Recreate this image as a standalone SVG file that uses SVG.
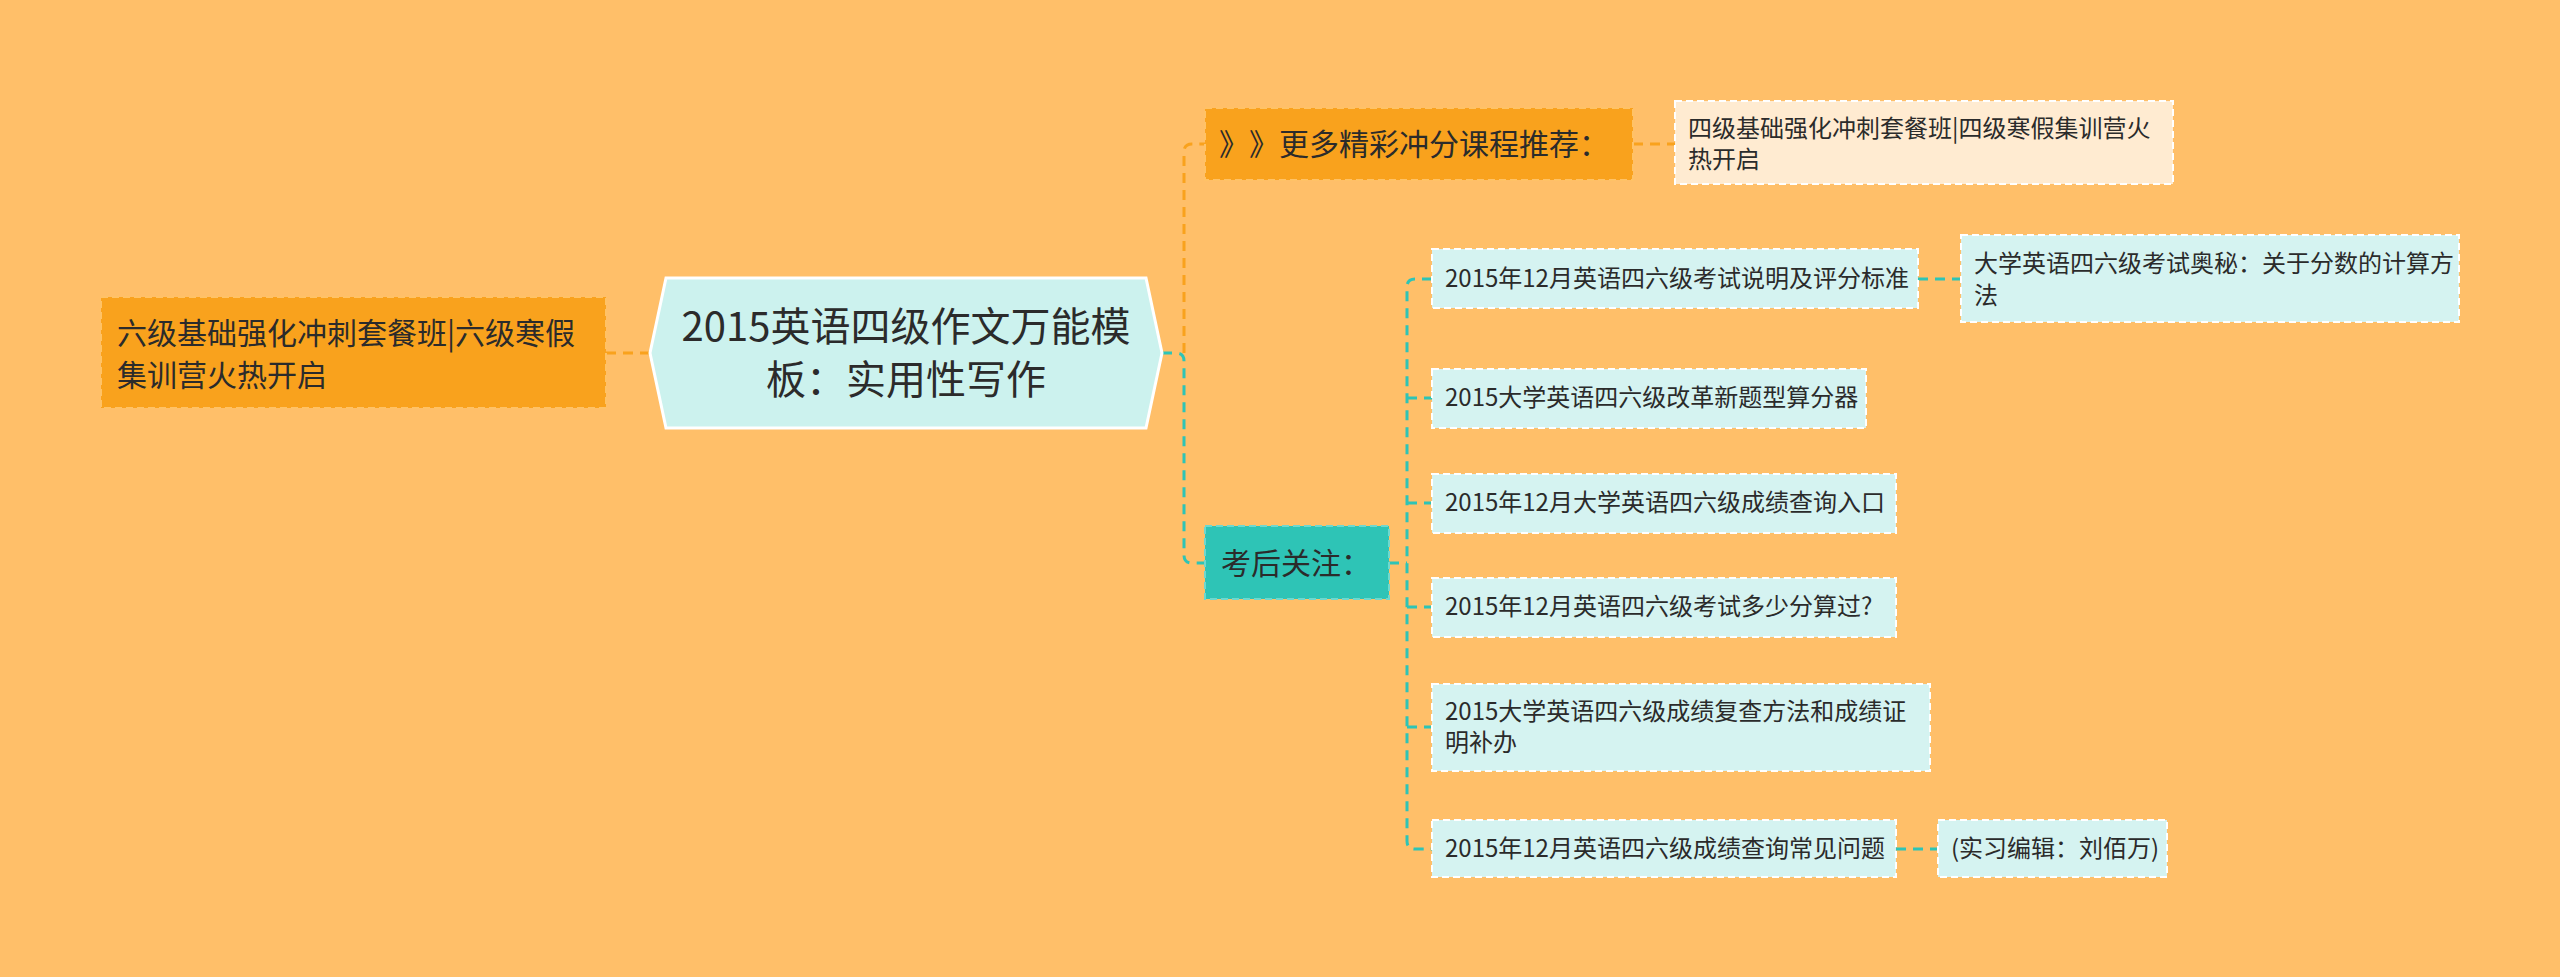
<svg xmlns="http://www.w3.org/2000/svg" width="2560" height="977" viewBox="0 0 2560 977">
<style>
text{font-family:"Noto Sans CJK SC","Noto Sans",sans-serif;fill:#2b2b2b;text-spacing-trim:space-all}
.t24{font-size:24px}
.t30{font-size:30px}
.t40{font-size:40px}
.or{fill:#F9A21D;stroke:#FFC266;stroke-width:2;stroke-dasharray:7 4}
.tl{fill:#2EC4B6;stroke:#6ED8CE;stroke-width:2;stroke-dasharray:7 4}
.cy{fill:#D5F3F1;stroke:#FFFFFF;stroke-width:2;stroke-dasharray:7 4}
.cr{fill:#FFEBD1;stroke:#FFFFFF;stroke-width:2;stroke-dasharray:7 4}
.co{fill:none;stroke:#F9A21D;stroke-width:3;stroke-dasharray:10 7}
.ct{fill:none;stroke:#2EC4B6;stroke-width:3;stroke-dasharray:10 7}
</style>
<rect x="0" y="0" width="2560" height="977" fill="#FFBF69"/>
<g id="connectors">
<path class="co" d="M606 353 H650"/>
<path class="co" d="M1184 353 V152 Q1184 144 1192 144 H1205"/>
<path class="ct" d="M1162 353 H1176 Q1184 353 1184 361 V555 Q1184 563 1192 563 H1205"/>
<path class="co" d="M1633 144 H1675"/>
<path class="ct" d="M1389 563 H1407"/>
<path class="ct" d="M1432 279 H1415 Q1407 279 1407 287 V841 Q1407 849 1415 849 H1432"/>
<path class="ct" d="M1407 398 H1432"/>
<path class="ct" d="M1407 503 H1432"/>
<path class="ct" d="M1407 607 H1432"/>
<path class="ct" d="M1407 727 H1432"/>
<path class="ct" d="M1918 279 H1961"/>
<path class="ct" d="M1896 849 H1938"/>
</g>
<g id="left-node">
<rect class="or" x="101" y="297" width="505" height="111"/>
<text class="t30" x="117" y="344">六级基础强化冲刺套餐班|六级寒假</text>
<text class="t30" x="117" y="386">集训营火热开启</text>
</g>
<g id="center-node">
<polygon points="666,278 1146,278 1162,353 1146,428 666,428 650,353" fill="#CCF2EE" stroke="#FFFFFF" stroke-width="3"/>
<text class="t40" x="906" y="341" text-anchor="middle">2015英语四级作文万能模</text>
<text class="t40" x="906" y="394" text-anchor="middle">板：实用性写作</text>
</g>
<g id="node-recommend">
<rect class="or" x="1205" y="108" width="428" height="72"/>
<text class="t30" y="155"><tspan x="1219">》</tspan><tspan x="1249">》</tspan><tspan x="1279">更多精彩冲分课程推荐：</tspan></text>
</g>
<g id="node-recommend-child">
<rect class="cr" x="1675" y="101" width="498" height="83"/>
<text class="t24" x="1688" y="137">四级基础强化冲刺套餐班|四级寒假集训营火</text>
<text class="t24" x="1688" y="168">热开启</text>
</g>
<g id="node-follow">
<rect class="tl" x="1205" y="526" width="184" height="73"/>
<text class="t30" x="1221" y="574">考后关注：</text>
</g>
<g id="node-c1">
<rect class="cy" x="1432" y="249" width="486" height="59"/>
<text class="t24" x="1445" y="287">2015年12月英语四六级考试说明及评分标准</text>
</g>
<g id="node-c1a">
<rect class="cy" x="1961" y="235" width="498" height="87"/>
<text class="t24" x="1974" y="272">大学英语四六级考试奥秘：关于分数的计算方</text>
<text class="t24" x="1974" y="304">法</text>
</g>
<g id="node-c2">
<rect class="cy" x="1432" y="369" width="434" height="59"/>
<text class="t24" x="1445" y="406">2015大学英语四六级改革新题型算分器</text>
</g>
<g id="node-c3">
<rect class="cy" x="1432" y="474" width="464" height="59"/>
<text class="t24" x="1445" y="511">2015年12月大学英语四六级成绩查询入口</text>
</g>
<g id="node-c4">
<rect class="cy" x="1432" y="578" width="464" height="59"/>
<text class="t24" x="1445" y="615">2015年12月英语四六级考试多少分算过?</text>
</g>
<g id="node-c5">
<rect class="cy" x="1432" y="684" width="498" height="87"/>
<text class="t24" x="1445" y="720">2015大学英语四六级成绩复查方法和成绩证</text>
<text class="t24" x="1445" y="751">明补办</text>
</g>
<g id="node-c6">
<rect class="cy" x="1432" y="820" width="464" height="57"/>
<text class="t24" x="1445" y="857">2015年12月英语四六级成绩查询常见问题</text>
</g>
<g id="node-c6a">
<rect class="cy" x="1938" y="820" width="229" height="57"/>
<text class="t24" x="1951" y="857">(实习编辑：刘佰万)</text>
</g>
</svg>
